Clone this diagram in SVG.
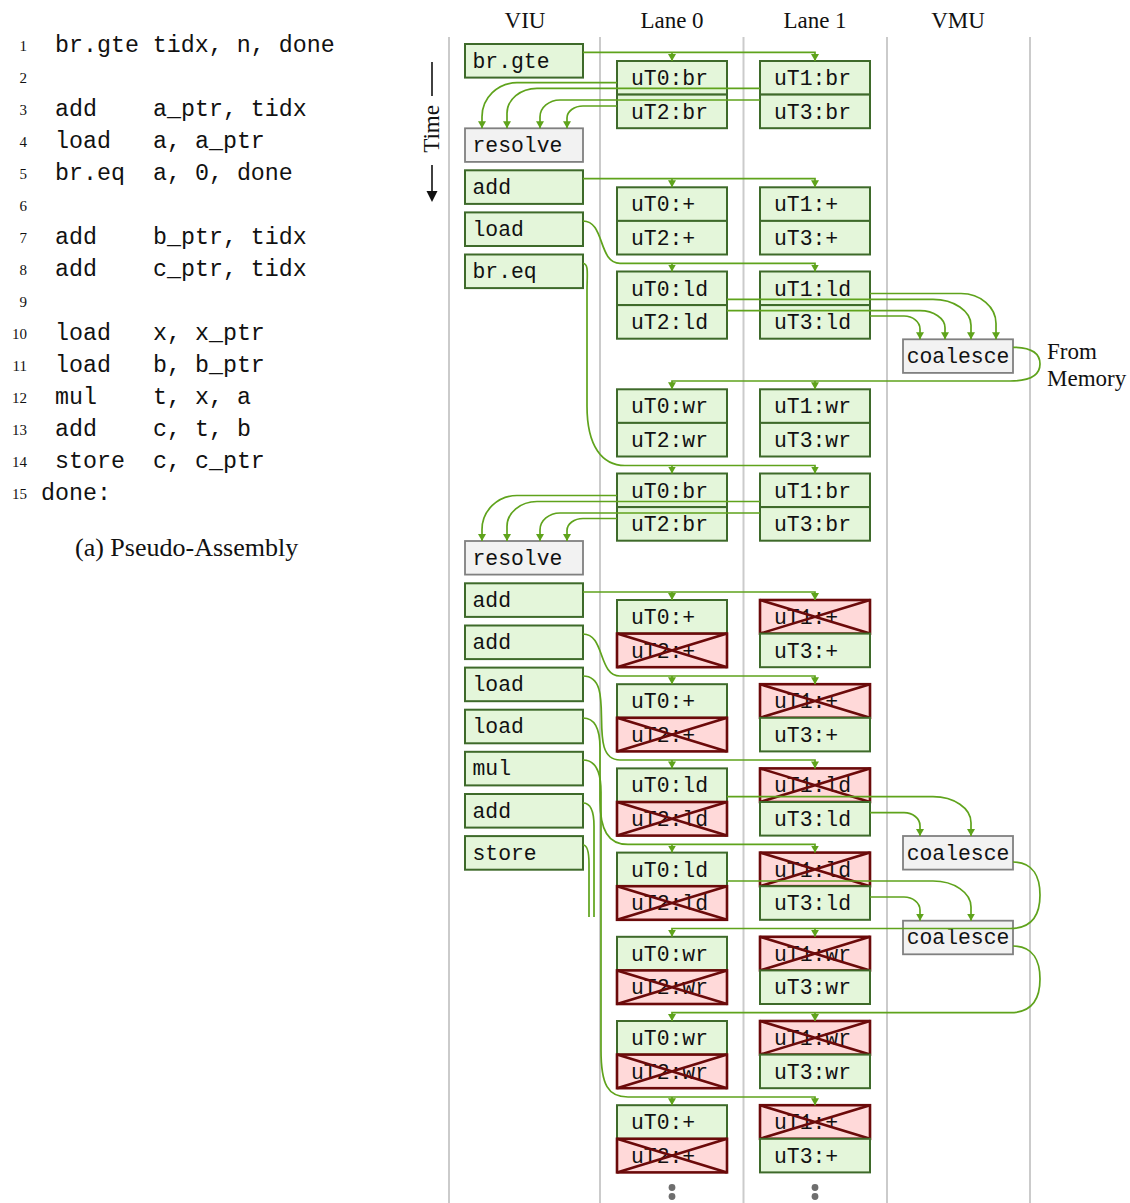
<svg xmlns="http://www.w3.org/2000/svg" width="1130" height="1203" viewBox="0 0 1130 1203">
<style>
.col{stroke:#cbcbcb;stroke-width:2;fill:none}
.g{fill:#e4f6da;stroke:#3e6a2a;stroke-width:2}
.x{fill:#ffd9d9;stroke:#6b0a0a;stroke-width:2.6}
.xl{stroke:#6b0a0a;stroke-width:2.6;fill:none}
.gr{fill:#f2f2f2;stroke:#808080;stroke-width:1.8}
.m{font-family:"Liberation Mono","DejaVu Sans Mono",monospace;font-size:21.4px;fill:#111}
.mc{font-family:"Liberation Mono","DejaVu Sans Mono",monospace;font-size:23.3px;fill:#111}
.s{font-family:"Liberation Serif","DejaVu Serif",serif;fill:#111}
.ln{font-family:"Liberation Serif","DejaVu Serif",serif;font-size:15px;fill:#111;text-anchor:end}
.c{stroke:#5fa31c;stroke-width:1.7;fill:none}
.a{marker-end:url(#ah)}
</style>
<defs>
<marker id="ah" viewBox="0 0 7 8" refX="7" refY="4" markerWidth="7" markerHeight="8" markerUnits="userSpaceOnUse" orient="auto"><path d="M0,0 L7,4 L0,8 z" fill="#5fa31c"/></marker>
</defs>
<rect width="1130" height="1203" fill="#ffffff"/>

<!-- code listing -->
<g id="code">
<text class="ln" x="27" y="51">1</text><text class="mc" x="55" y="52">br.gte tidx, n, done</text>
<text class="ln" x="27" y="83">2</text>
<text class="ln" x="27" y="115">3</text><text class="mc" x="55" y="116">add</text><text class="mc" x="153" y="116">a_ptr, tidx</text>
<text class="ln" x="27" y="147">4</text><text class="mc" x="55" y="148">load</text><text class="mc" x="153" y="148">a, a_ptr</text>
<text class="ln" x="27" y="179">5</text><text class="mc" x="55" y="180">br.eq</text><text class="mc" x="153" y="180">a, 0, done</text>
<text class="ln" x="27" y="211">6</text>
<text class="ln" x="27" y="243">7</text><text class="mc" x="55" y="244">add</text><text class="mc" x="153" y="244">b_ptr, tidx</text>
<text class="ln" x="27" y="275">8</text><text class="mc" x="55" y="276">add</text><text class="mc" x="153" y="276">c_ptr, tidx</text>
<text class="ln" x="27" y="307">9</text>
<text class="ln" x="27" y="339">10</text><text class="mc" x="55" y="339.5">load</text><text class="mc" x="153" y="339.5">x, x_ptr</text>
<text class="ln" x="27" y="371">11</text><text class="mc" x="55" y="371.5">load</text><text class="mc" x="153" y="371.5">b, b_ptr</text>
<text class="ln" x="27" y="403">12</text><text class="mc" x="55" y="403.5">mul</text><text class="mc" x="153" y="403.5">t, x, a</text>
<text class="ln" x="27" y="435">13</text><text class="mc" x="55" y="435.5">add</text><text class="mc" x="153" y="435.5">c, t, b</text>
<text class="ln" x="27" y="467">14</text><text class="mc" x="55" y="467.5">store</text><text class="mc" x="153" y="467.5">c, c_ptr</text>
<text class="ln" x="27" y="499">15</text><text class="mc" x="41" y="499.5">done:</text>
<text class="s" x="75" y="556" font-size="26">(a) Pseudo-Assembly</text>
</g>

<!-- columns -->
<g id="columns">
<line class="col" x1="449" y1="37" x2="449" y2="1203"/>
<line class="col" x1="600" y1="37" x2="600" y2="1203"/>
<line class="col" x1="743.5" y1="37" x2="743.5" y2="1203"/>
<line class="col" x1="887" y1="37" x2="887" y2="1203"/>
<line class="col" x1="1030" y1="37" x2="1030" y2="1203"/>
<text class="s" x="525" y="28" font-size="23" text-anchor="middle">VIU</text>
<text class="s" x="672" y="28" font-size="23" text-anchor="middle">Lane 0</text>
<text class="s" x="815" y="28" font-size="23" text-anchor="middle">Lane 1</text>
<text class="s" x="958" y="28" font-size="23" text-anchor="middle">VMU</text>
</g>

<g id="time">
<line x1="432" y1="62" x2="432" y2="96" stroke="#111" stroke-width="1.6"/>
<text class="s" font-size="23" text-anchor="middle" transform="translate(439,129) rotate(-90)">Time</text>
<line x1="432" y1="165" x2="432" y2="194" stroke="#111" stroke-width="1.6"/>
<path d="M426.5,191 L437.5,191 L432,202 z" fill="#111"/>
</g>

<!-- VIU nodes -->
<g id="viu-brgte"><rect class="g" x="465" y="44" width="118" height="33.6"/><text class="m" x="472.5" y="67.5">br.gte</text></g>
<g id="viu-resolve1"><rect class="gr" x="465" y="128.3" width="118" height="33.6"/><text class="m" x="472.5" y="151.8">resolve</text></g>
<g id="viu-add1"><rect class="g" x="465" y="170.3" width="118" height="33.6"/><text class="m" x="472.5" y="193.8">add</text></g>
<g id="viu-load1"><rect class="g" x="465" y="212.4" width="118" height="33.6"/><text class="m" x="472.5" y="235.9">load</text></g>
<g id="viu-breq"><rect class="g" x="465" y="254.5" width="118" height="33.6"/><text class="m" x="472.5" y="278">br.eq</text></g>
<g id="viu-resolve2"><rect class="gr" x="465" y="541" width="118" height="33.6"/><text class="m" x="472.5" y="564.5">resolve</text></g>
<g id="viu-add2"><rect class="g" x="465" y="583.3" width="118" height="33.6"/><text class="m" x="472.5" y="606.8">add</text></g>
<g id="viu-add3"><rect class="g" x="465" y="625.5" width="118" height="33.6"/><text class="m" x="472.5" y="649">add</text></g>
<g id="viu-load2"><rect class="g" x="465" y="667.6" width="118" height="33.6"/><text class="m" x="472.5" y="691.1">load</text></g>
<g id="viu-load3"><rect class="g" x="465" y="709.7" width="118" height="33.6"/><text class="m" x="472.5" y="733.2">load</text></g>
<g id="viu-mul"><rect class="g" x="465" y="751.8" width="118" height="33.6"/><text class="m" x="472.5" y="775.3">mul</text></g>
<g id="viu-add4"><rect class="g" x="465" y="794" width="118" height="33.6"/><text class="m" x="472.5" y="817.5">add</text></g>
<g id="viu-store"><rect class="g" x="465" y="836.1" width="118" height="33.6"/><text class="m" x="472.5" y="859.6">store</text></g>

<!-- VMU nodes -->
<g id="vmu-coalesce1"><rect class="gr" x="903" y="339.3" width="110" height="33.6"/><text class="m" x="958" y="362.8" text-anchor="middle">coalesce</text></g>
<g id="vmu-coalesce2"><rect class="gr" x="903" y="836" width="110" height="33.6"/><text class="m" x="958" y="859.5" text-anchor="middle">coalesce</text></g>
<g id="vmu-coalesce3"><rect class="gr" x="903" y="920.7" width="110" height="33.6"/><text class="m" x="958" y="944.2" text-anchor="middle">coalesce</text></g>
<text class="s" x="1047" y="359" font-size="23">From</text>
<text class="s" x="1047" y="385.5" font-size="23">Memory</text>

<!-- Lane rows: section 1 -->
<g id="r1-uT0"><rect class="g" x="617" y="61" width="110" height="33.6"/><text class="m" x="631" y="85">uT0:br</text></g>
<g id="r1-uT2"><rect class="g" x="617" y="94.6" width="110" height="33.6"/><text class="m" x="631" y="118.6">uT2:br</text></g>
<g id="r1-uT1"><rect class="g" x="760" y="61" width="110" height="33.6"/><text class="m" x="774" y="85">uT1:br</text></g>
<g id="r1-uT3"><rect class="g" x="760" y="94.6" width="110" height="33.6"/><text class="m" x="774" y="118.6">uT3:br</text></g>

<g id="r2-uT0"><rect class="g" x="617" y="187.3" width="110" height="33.6"/><text class="m" x="631" y="211.3">uT0:+</text></g>
<g id="r2-uT2"><rect class="g" x="617" y="220.9" width="110" height="33.6"/><text class="m" x="631" y="244.9">uT2:+</text></g>
<g id="r2-uT1"><rect class="g" x="760" y="187.3" width="110" height="33.6"/><text class="m" x="774" y="211.3">uT1:+</text></g>
<g id="r2-uT3"><rect class="g" x="760" y="220.9" width="110" height="33.6"/><text class="m" x="774" y="244.9">uT3:+</text></g>

<g id="r3-uT0"><rect class="g" x="617" y="271.5" width="110" height="33.6"/><text class="m" x="631" y="295.5">uT0:ld</text></g>
<g id="r3-uT2"><rect class="g" x="617" y="305.1" width="110" height="33.6"/><text class="m" x="631" y="329.1">uT2:ld</text></g>
<g id="r3-uT1"><rect class="g" x="760" y="271.5" width="110" height="33.6"/><text class="m" x="774" y="295.5">uT1:ld</text></g>
<g id="r3-uT3"><rect class="g" x="760" y="305.1" width="110" height="33.6"/><text class="m" x="774" y="329.1">uT3:ld</text></g>

<g id="r4-uT0"><rect class="g" x="617" y="389.3" width="110" height="33.6"/><text class="m" x="631" y="413.3">uT0:wr</text></g>
<g id="r4-uT2"><rect class="g" x="617" y="422.9" width="110" height="33.6"/><text class="m" x="631" y="446.9">uT2:wr</text></g>
<g id="r4-uT1"><rect class="g" x="760" y="389.3" width="110" height="33.6"/><text class="m" x="774" y="413.3">uT1:wr</text></g>
<g id="r4-uT3"><rect class="g" x="760" y="422.9" width="110" height="33.6"/><text class="m" x="774" y="446.9">uT3:wr</text></g>

<g id="r5-uT0"><rect class="g" x="617" y="473.5" width="110" height="33.6"/><text class="m" x="631" y="497.5">uT0:br</text></g>
<g id="r5-uT2"><rect class="g" x="617" y="507.1" width="110" height="33.6"/><text class="m" x="631" y="531.1">uT2:br</text></g>
<g id="r5-uT1"><rect class="g" x="760" y="473.5" width="110" height="33.6"/><text class="m" x="774" y="497.5">uT1:br</text></g>
<g id="r5-uT3"><rect class="g" x="760" y="507.1" width="110" height="33.6"/><text class="m" x="774" y="531.1">uT3:br</text></g>

<!-- Lane rows: section 2 (uT2 and uT1 masked) -->
<g id="r6-uT0"><rect class="g" x="617" y="600" width="110" height="33.6"/><text class="m" x="631" y="624">uT0:+</text></g>
<g id="r6-uT2"><rect class="x" x="617" y="633.6" width="110" height="33.6"/><text class="m" x="631" y="657.6">uT2:+</text><path class="xl" d="M617,633.6 L727,667.2 M617,667.2 L727,633.6"/></g>
<g id="r6-uT1"><rect class="x" x="760" y="600" width="110" height="33.6"/><text class="m" x="774" y="624">uT1:+</text><path class="xl" d="M760,600 L870,633.6 M760,633.6 L870,600"/></g>
<g id="r6-uT3"><rect class="g" x="760" y="633.6" width="110" height="33.6"/><text class="m" x="774" y="657.6">uT3:+</text></g>

<g id="r7-uT0"><rect class="g" x="617" y="684.2" width="110" height="33.6"/><text class="m" x="631" y="708.2">uT0:+</text></g>
<g id="r7-uT2"><rect class="x" x="617" y="717.8" width="110" height="33.6"/><text class="m" x="631" y="741.8">uT2:+</text><path class="xl" d="M617,717.8 L727,751.4 M617,751.4 L727,717.8"/></g>
<g id="r7-uT1"><rect class="x" x="760" y="684.2" width="110" height="33.6"/><text class="m" x="774" y="708.2">uT1:+</text><path class="xl" d="M760,684.2 L870,717.8 M760,717.8 L870,684.2"/></g>
<g id="r7-uT3"><rect class="g" x="760" y="717.8" width="110" height="33.6"/><text class="m" x="774" y="741.8">uT3:+</text></g>

<g id="r8-uT0"><rect class="g" x="617" y="768.4" width="110" height="33.6"/><text class="m" x="631" y="792.4">uT0:ld</text></g>
<g id="r8-uT2"><rect class="x" x="617" y="802" width="110" height="33.6"/><text class="m" x="631" y="826">uT2:ld</text><path class="xl" d="M617,802 L727,835.6 M617,835.6 L727,802"/></g>
<g id="r8-uT1"><rect class="x" x="760" y="768.4" width="110" height="33.6"/><text class="m" x="774" y="792.4">uT1:ld</text><path class="xl" d="M760,768.4 L870,802 M760,802 L870,768.4"/></g>
<g id="r8-uT3"><rect class="g" x="760" y="802" width="110" height="33.6"/><text class="m" x="774" y="826">uT3:ld</text></g>

<g id="r9-uT0"><rect class="g" x="617" y="852.6" width="110" height="33.6"/><text class="m" x="631" y="876.6">uT0:ld</text></g>
<g id="r9-uT2"><rect class="x" x="617" y="886.2" width="110" height="33.6"/><text class="m" x="631" y="910.2">uT2:ld</text><path class="xl" d="M617,886.2 L727,919.8 M617,919.8 L727,886.2"/></g>
<g id="r9-uT1"><rect class="x" x="760" y="852.6" width="110" height="33.6"/><text class="m" x="774" y="876.6">uT1:ld</text><path class="xl" d="M760,852.6 L870,886.2 M760,886.2 L870,852.6"/></g>
<g id="r9-uT3"><rect class="g" x="760" y="886.2" width="110" height="33.6"/><text class="m" x="774" y="910.2">uT3:ld</text></g>

<g id="r10-uT0"><rect class="g" x="617" y="936.8" width="110" height="33.6"/><text class="m" x="631" y="960.8">uT0:wr</text></g>
<g id="r10-uT2"><rect class="x" x="617" y="970.4" width="110" height="33.6"/><text class="m" x="631" y="994.4">uT2:wr</text><path class="xl" d="M617,970.4 L727,1004 M617,1004 L727,970.4"/></g>
<g id="r10-uT1"><rect class="x" x="760" y="936.8" width="110" height="33.6"/><text class="m" x="774" y="960.8">uT1:wr</text><path class="xl" d="M760,936.8 L870,970.4 M760,970.4 L870,936.8"/></g>
<g id="r10-uT3"><rect class="g" x="760" y="970.4" width="110" height="33.6"/><text class="m" x="774" y="994.4">uT3:wr</text></g>

<g id="r11-uT0"><rect class="g" x="617" y="1021" width="110" height="33.6"/><text class="m" x="631" y="1045">uT0:wr</text></g>
<g id="r11-uT2"><rect class="x" x="617" y="1054.6" width="110" height="33.6"/><text class="m" x="631" y="1078.6">uT2:wr</text><path class="xl" d="M617,1054.6 L727,1088.2 M617,1088.2 L727,1054.6"/></g>
<g id="r11-uT1"><rect class="x" x="760" y="1021" width="110" height="33.6"/><text class="m" x="774" y="1045">uT1:wr</text><path class="xl" d="M760,1021 L870,1054.6 M760,1054.6 L870,1021"/></g>
<g id="r11-uT3"><rect class="g" x="760" y="1054.6" width="110" height="33.6"/><text class="m" x="774" y="1078.6">uT3:wr</text></g>

<g id="r12-uT0"><rect class="g" x="617" y="1105.2" width="110" height="33.6"/><text class="m" x="631" y="1129.2">uT0:+</text></g>
<g id="r12-uT2"><rect class="x" x="617" y="1138.8" width="110" height="33.6"/><text class="m" x="631" y="1162.8">uT2:+</text><path class="xl" d="M617,1138.8 L727,1172.4 M617,1172.4 L727,1138.8"/></g>
<g id="r12-uT1"><rect class="x" x="760" y="1105.2" width="110" height="33.6"/><text class="m" x="774" y="1129.2">uT1:+</text><path class="xl" d="M760,1105.2 L870,1138.8 M760,1138.8 L870,1105.2"/></g>
<g id="r12-uT3"><rect class="g" x="760" y="1138.8" width="110" height="33.6"/><text class="m" x="774" y="1162.8">uT3:+</text></g>

<g id="dots" fill="#6e6e6e">
<circle cx="672" cy="1187.5" r="3.4"/><circle cx="672" cy="1196.5" r="3.4"/>
<circle cx="815" cy="1187.5" r="3.4"/><circle cx="815" cy="1196.5" r="3.4"/>
</g>

<!-- connectors -->
<g id="connectors">
<!-- section 1 issue -->
<path class="c a" d="M583,52.3 H815 V61"/><path class="c a" d="M672,52.3 V61"/>
<path class="c a" d="M617,82.7 H517 C497.7,82.7 482,97.9 482,116.7 V128.3"/>
<path class="c a" d="M760,88.3 H537 C520.4,88.3 507,99.5 507,113.3 V128.3"/>
<path class="c a" d="M760,100 H560 C549,100 540,107.6 540,117 V128.3"/>
<path class="c a" d="M617,106 H583 C574.2,106 567,111.4 567,118 V128.3"/>
<path class="c a" d="M583,178.7 H815 V187.3"/><path class="c a" d="M672,178.7 V187.3"/>
<path class="c a" d="M583,221 C605,221 598,263.3 620,263.3 H815 V271.5"/><path class="c a" d="M672,263.3 V271.5"/>
<path class="c a" d="M583,263.5 C589,263.5 587,275 587,290 V406 C587,446 602,465.5 625,465.5 H815 V473.5"/><path class="c a" d="M672,465.5 V473.5"/>
<path class="c a" d="M870,293.5 H961 C980.3,293.5 996,307 996,323.5 V339.3"/>
<path class="c a" d="M727,299.3 H933 C954,299.3 971,311 971,325.3 V339.3"/>
<path class="c a" d="M727,310.7 H920 C933.8,310.7 945,318.3 945,327.7 V339.3"/>
<path class="c a" d="M870,316 H904 C912.8,316 920,321.8 920,329 V339.3"/>
<path class="c a" d="M1013,347.3 C1034,347.3 1040,355 1040,364 C1040,374 1033,381 1010,381 H672 V389.3"/><path class="c a" d="M815,381 V389.3"/>
<!-- section 2 -->
<path class="c a" d="M617,495.5 H517 C497.7,495.5 482,510.7 482,529.5 V541"/>
<path class="c a" d="M760,501.5 H537 C520.4,501.5 507,512.7 507,526.5 V541"/>
<path class="c a" d="M760,513 H560 C549,513 540,520.6 540,530 V541"/>
<path class="c a" d="M617,518.5 H583 C574.2,518.5 567,523.9 567,530.5 V541"/>
<path class="c a" d="M583,592 H815 V600"/><path class="c a" d="M672,592 V600"/>
<path class="c a" d="M583,634 C605,634 598,676 620,676 H815 V684.2"/><path class="c a" d="M672,676 V684.2"/>
<path class="c a" d="M583,676 C619,676 584,760 620,760 H815 V768.4"/><path class="c a" d="M672,760 V768.4"/>
<path class="c a" d="M583,718 C596,718 600,730 600,748 V800 C600,830 608,844.4 628,844.4 H815 V852.6"/><path class="c a" d="M672,844.4 V852.6"/>
<path class="c a" d="M583,760 C596,760 601,772 601,792 V1050 C601,1085 608,1097 628,1097 H815 V1105.2"/><path class="c a" d="M672,1097 V1105.2"/>
<path class="c" d="M583,803 C591,803 594,812 594,826 V917"/>
<path class="c" d="M583,845 C587,845 589,852 589,864 V917"/>
<path class="c a" d="M727,796.7 H933 C954,796.7 971,808.3 971,822.7 V836"/>
<path class="c a" d="M870,812.7 H904 C912.8,812.7 920,818.5 920,825.7 V836"/>
<path class="c a" d="M727,881 H933 C954,881 971,892.6 971,907 V920.7"/>
<path class="c a" d="M870,897 H904 C912.8,897 920,902.8 920,910 V920.7"/>
<path class="c a" d="M1013,862 C1034,862 1040,878 1040,895 C1040,915 1032,928.5 1010,928.5 H672 V936.8"/><path class="c a" d="M815,928.5 V936.8"/>
<path class="c a" d="M1013,946 C1034,946 1040,962 1040,979 C1040,999 1032,1012.7 1010,1012.7 H672 V1021"/><path class="c a" d="M815,1012.7 V1021"/>
</g>
</svg>
